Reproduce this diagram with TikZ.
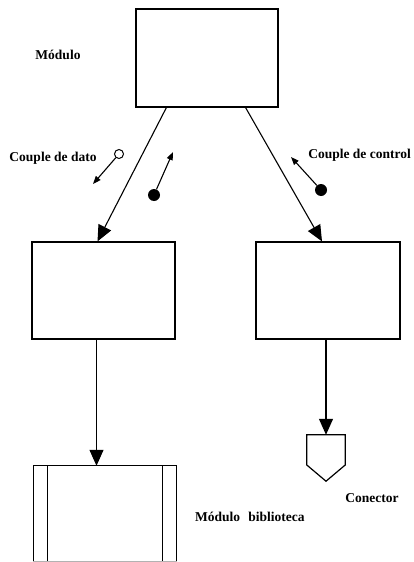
\documentclass[tikz,border=0pt]{standalone}
\usepackage{fontspec}
\setmainfont{Liberation Serif}
\usetikzlibrary{arrows.meta,calc}
\begin{document}
\begin{tikzpicture}[x=1pt,y=-1pt,
  box/.style={draw,line width=1.2pt,inner sep=0pt},
  arr/.style={line width=1.1pt,-{Triangle[length=16pt,width=14pt]}},
  sarr/.style={line width=1.1pt,-{Triangle[length=8pt,width=6pt]}},
  lbl/.style={font=\fontsize{13.5}{15}\selectfont\bfseries,inner sep=0pt}]
\useasboundingbox (0,0) rectangle (413,562);
% boxes
\node[box,minimum width=142pt,minimum height=98pt] (mod) at (207,58) {};
\node[box,minimum width=143pt,minimum height=97pt] (a) at (103.5,290.5) {};
\node[box,minimum width=144pt,minimum height=97pt] (b) at (328,290.5) {};
\node[inner sep=0pt,minimum width=143pt,minimum height=95pt] (lib) at (105,513.5) {};
\draw[line width=1.2pt] (lib.south west) -- (lib.north west) -- (lib.north east) -- (lib.south east);
\draw[line width=0.6pt,gray!60] (lib.south west) -- (lib.south east);
\draw[line width=1.2pt] ($(lib.north west)+(14,0)$) -- ($(lib.south west)+(14,0)$);
\draw[line width=1.2pt] ($(lib.north east)+(-14,0)$) -- ($(lib.south east)+(-14,0)$);
% connector
\node[inner sep=0pt,minimum width=38pt,minimum height=46pt] (con) at (326,458) {};
\draw[line width=1.2pt] (con.north west) -- (con.north east) -- ($(con.east)+(0,7)$) -- (con.south) -- ($(con.west)+(0,7)$) -- cycle;
% main arrows
\draw[arr] ($(mod.south west)+(31,0)$) -- ($(a.north)+(-6,0)$);
\draw[arr] ($(mod.south east)+(-33,0)$) -- ($(b.north)+(-6,0)$);
\draw[arr] ($(a.south)+(-7,0)$) coordinate (p1) -- (p1 |- lib.north);
\draw[arr] ($(b.south)+(-2,0)$) coordinate (p2) -- (p2 |- con.north);
% couples
\node[circle,draw,line width=1pt,minimum size=9pt,inner sep=0pt] (c1) at (119,154) {};
\coordinate (e1) at (93,184);
\draw[sarr] (c1) -- (e1);
\node[circle,fill,minimum size=12pt,inner sep=0pt] (c2) at (154,195) {};
\coordinate (e2) at (173,152);
\draw[sarr] (c2) -- (e2);
\node[circle,fill,minimum size=12pt,inner sep=0pt] (c3) at (321,190) {};
\coordinate (e3) at (291,157);
\draw[sarr] (c3) -- (e3);
% labels
\node[lbl] (t1) at (58,55) {Módulo};
\node[lbl] (t2) at (53,158) {Couple de dato};
\node[lbl,anchor=east] (t3) at (411,155) {Couple de control};
\node[lbl] (t4) at (372,498) {Conector};
\node[lbl,anchor=west] (t5) at (195,517) {Módulo\hspace{0.6em}biblioteca};
\end{tikzpicture}
\end{document}
